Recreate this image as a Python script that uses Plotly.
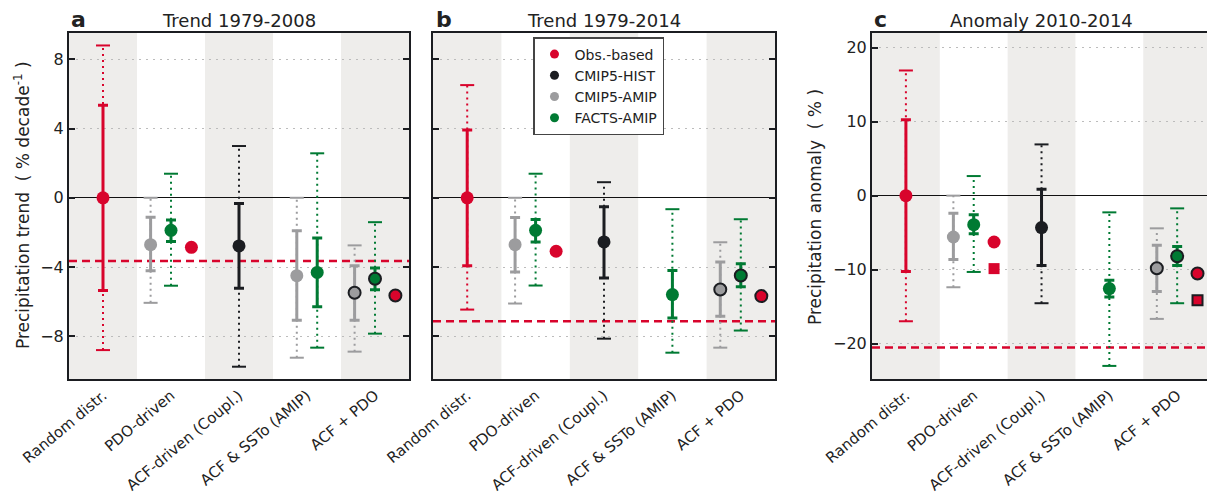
import plotly.graph_objects as go

W, H = 1207, 495

categories = ["Random distr.", "PDO-driven", "ACF-driven (Coupl.)", "ACF & SSTo (AMIP)", "ACF + PDO"]
panel_titles = ["Trend 1979-2008", "Trend 1979-2014", "Anomaly 2010-2014"]
panel_letters = ["a", "b", "c"]
series_names = {"obs": "Obs.-based", "hist": "CMIP5-HIST", "amip": "CMIP5-AMIP", "facts": "FACTS-AMIP"}

# ---------------- Panel a: trend 1979-2008 (% decade-1) ----------------
a_obs = [0.0, -2.86, None, None, -5.65]
a_obs_slo = [-5.35, None, None, None, None]
a_obs_shi = [5.35, None, None, None, None]
a_obs_dlo = [-8.8, None, None, None, None]
a_obs_dhi = [8.8, None, None, None, None]
a_hist = [None, None, -2.78, None, None]
a_hist_slo = [None, None, -5.22, None, None]
a_hist_shi = [None, None, -0.33, None, None]
a_hist_dlo = [None, None, -9.76, None, None]
a_hist_dhi = [None, None, 2.99, None, None]
a_amip = [None, -2.71, None, -4.5, -5.49]
a_amip_slo = [None, -4.21, None, -7.07, -7.07]
a_amip_shi = [None, -1.12, None, -1.91, -3.92]
a_amip_dlo = [None, -6.07, None, -9.24, -8.89]
a_amip_dhi = [None, 0.0, None, 0.0, -2.75]
a_facts = [None, -1.88, None, -4.31, -4.68]
a_facts_slo = [None, -2.53, None, -6.3, -5.32]
a_facts_shi = [None, -1.28, None, -2.32, -4.06]
a_facts_dlo = [None, -5.08, None, -8.66, -7.85]
a_facts_dhi = [None, 1.39, None, 2.57, -1.41]
a_obs_line = -3.65

# ---------------- Panel b: trend 1979-2014 ----------------
b_obs = [0.0, -3.09, None, None, -5.68]
b_obs_slo = [-3.92, None, None, None, None]
b_obs_shi = [3.92, None, None, None, None]
b_obs_dlo = [-6.46, None, None, None, None]
b_obs_dhi = [6.51, None, None, None, None]
b_hist = [None, None, -2.55, None, None]
b_hist_slo = [None, None, -4.64, None, None]
b_hist_shi = [None, None, -0.52, None, None]
b_hist_dlo = [None, None, -8.14, None, None]
b_hist_dhi = [None, None, 0.9, None, None]
b_amip = [None, -2.71, None, None, -5.3]
b_amip_slo = [None, -4.29, None, None, -6.84]
b_amip_shi = [None, -1.14, None, None, -3.71]
b_amip_dlo = [None, -6.11, None, None, -8.66]
b_amip_dhi = [None, 0.0, None, None, -2.57]
b_facts = [None, -1.88, None, -5.59, -4.49]
b_facts_slo = [None, -2.55, None, -6.94, -5.14]
b_facts_shi = [None, -1.26, None, -4.2, -3.81]
b_facts_dlo = [None, -5.07, None, -8.95, -7.67]
b_facts_dhi = [None, 1.39, None, -0.66, -1.24]
b_obs_line = -7.13

# ---------------- Panel c: anomaly 2010-2014 (%) ----------------
c_obs = [0.0, -6.27, None, None, -10.54]
c_obs_square = [None, -9.87, None, None, -14.15]
c_obs_slo = [-10.25, None, None, None, None]
c_obs_shi = [10.27, None, None, None, None]
c_obs_dlo = [-16.99, None, None, None, None]
c_obs_dhi = [16.93, None, None, None, None]
c_hist = [None, None, -4.32, None, None]
c_hist_slo = [None, None, -9.46, None, None]
c_hist_shi = [None, None, 0.85, None, None]
c_hist_dlo = [None, None, -14.55, None, None]
c_hist_dhi = [None, None, 6.93, None, None]
c_amip = [None, -5.59, None, None, -9.82]
c_amip_slo = [None, -8.65, None, None, -12.97]
c_amip_shi = [None, -2.39, None, None, -6.72]
c_amip_dlo = [None, -12.39, None, None, -16.67]
c_amip_dhi = [None, 0.0, None, None, -4.42]
c_facts = [None, -3.92, None, -12.57, -8.2]
c_facts_slo = [None, -5.14, None, -13.7, -9.46]
c_facts_shi = [None, -2.57, None, -11.45, -6.89]
c_facts_dlo = [None, -10.32, None, -23.03, -14.55]
c_facts_dhi = [None, 2.65, None, -2.26, -1.72]
c_obs_line = -20.54

a_ticks = [-8, -4, 0, 4, 8]
c_ticks = [-20, -10, 0, 10, 20]

# ---------------- styles ----------------
COL = {"obs": "#d8042c", "hist": "#1b1d21", "amip": "#9c9c9e", "facts": "#007a33"}
EDGE = "#1b1d21"
BAND = "#eeedeb"
FONT = "DejaVu Sans"
TXT = "#222222"
ORDER = ["amip", "hist", "facts", "obs"]
OUTLINED_CAT = 4


def S(c, slo, shi, dlo, dhi):
    return dict(c=c, slo=slo, shi=shi, dlo=dlo, dhi=dhi)


panels = [
    dict(obs=S(a_obs, a_obs_slo, a_obs_shi, a_obs_dlo, a_obs_dhi),
         hist=S(a_hist, a_hist_slo, a_hist_shi, a_hist_dlo, a_hist_dhi),
         amip=S(a_amip, a_amip_slo, a_amip_shi, a_amip_dlo, a_amip_dhi),
         facts=S(a_facts, a_facts_slo, a_facts_shi, a_facts_dlo, a_facts_dhi),
         square=None, line=a_obs_line),
    dict(obs=S(b_obs, b_obs_slo, b_obs_shi, b_obs_dlo, b_obs_dhi),
         hist=S(b_hist, b_hist_slo, b_hist_shi, b_hist_dlo, b_hist_dhi),
         amip=S(b_amip, b_amip_slo, b_amip_shi, b_amip_dlo, b_amip_dhi),
         facts=S(b_facts, b_facts_slo, b_facts_shi, b_facts_dlo, b_facts_dhi),
         square=None, line=b_obs_line),
    dict(obs=S(c_obs, c_obs_slo, c_obs_shi, c_obs_dlo, c_obs_dhi),
         hist=S(c_hist, c_hist_slo, c_hist_shi, c_hist_dlo, c_hist_dhi),
         amip=S(c_amip, c_amip_slo, c_amip_shi, c_amip_dlo, c_amip_dhi),
         facts=S(c_facts, c_facts_slo, c_facts_shi, c_facts_dlo, c_facts_dhi),
         square=c_obs_square, line=c_obs_line),
]

# layout geometry (pixels)
x_dom_px = [(69, 409), (433, 775), (872, W)]
y_dom = [1 - 379 / H, 1 - 33 / H]
y_ranges = [[-10.47, 9.52], [-10.47, 9.52], [-24.8, 22.0]]
x_ranges = [[-0.5, 4.5], [-0.5, 4.5], [-0.5, 4.44]]
title_cx = [239, 604, 1041]
letter_x = [69, 434, 872]

fig = go.Figure()
band_shapes = []
line_shapes = []
annotations = []
n = len(categories)

for p, pan in enumerate(panels):
    xr = "x" if p == 0 else f"x{p+1}"
    yr = "y" if p == 0 else f"y{p+1}"
    offsets = {}
    for i in range(n):
        present = [s for s in ORDER if pan[s]["c"][i] is not None]
        for k, s in enumerate(present):
            offsets[(s, i)] = (k - (len(present) - 1) / 2) * 0.3
    for i in range(0, n, 2):
        band_shapes.append(dict(type="rect", xref=xr, yref=f"{yr} domain", x0=i - 0.5, x1=i + 0.5,
                                y0=0, y1=1, fillcolor=BAND, line=dict(width=0), layer="below"))
    line_shapes.append(dict(type="line", xref=f"{xr} domain", yref=yr, x0=0, x1=1,
                            y0=pan["line"], y1=pan["line"],
                            line=dict(color=COL["obs"], width=2.5, dash="8px,5px"), layer="below"))
    # dotted ranges
    for s in ORDER:
        d = pan[s]
        for i in range(n):
            if d["c"][i] is None or d["dlo"][i] is None:
                continue
            xp = i + offsets[(s, i)]
            fig.add_trace(go.Scatter(x=[xp, xp], y=[d["dlo"][i], d["dhi"][i]], mode="lines",
                                     line=dict(color=COL[s], width=2, dash="2px,4px"),
                                     xaxis=xr, yaxis=yr, showlegend=False, hoverinfo="skip"))
            fig.add_trace(go.Scatter(x=[xp, xp], y=[d["dlo"][i], d["dhi"][i]], mode="markers",
                                     marker=dict(symbol="line-ew", size=10, color=COL[s],
                                                 line=dict(color=COL[s], width=2)),
                                     xaxis=xr, yaxis=yr, showlegend=False, hoverinfo="skip"))
    # points with solid ranges
    for s in ORDER:
        d = pan[s]
        for i in range(n):
            if d["c"][i] is None:
                continue
            xp = i + offsets[(s, i)]
            y = d["c"][i]
            err = dict(visible=False)
            if d["slo"][i] is not None:
                err = dict(type="data", symmetric=False, array=[d["shi"][i] - y],
                           arrayminus=[y - d["slo"][i]], color=COL[s], thickness=3, width=5, visible=True)
            outlined = (i == OUTLINED_CAT)
            fig.add_trace(go.Scatter(x=[xp], y=[y], mode="markers", error_y=err,
                                     marker=dict(size=13 if not outlined else 12, color=COL[s],
                                                 line=dict(color=EDGE, width=2 if outlined else 0)),
                                     xaxis=xr, yaxis=yr, showlegend=False, name=series_names[s]))
            if s == "obs" and pan["square"] is not None and pan["square"][i] is not None:
                fig.add_trace(go.Scatter(x=[xp], y=[pan["square"][i]], mode="markers",
                                         marker=dict(symbol="square", size=11 if not outlined else 10,
                                                     color=COL[s],
                                                     line=dict(color=EDGE, width=2 if outlined else 0)),
                                         xaxis=xr, yaxis=yr, showlegend=False, name=series_names[s]))

    x0, x1 = x_dom_px[p]
    ticks = c_ticks if p == 2 else a_ticks
    xkey = "xaxis" if p == 0 else f"xaxis{p+1}"
    ykey = "yaxis" if p == 0 else f"yaxis{p+1}"
    fig.layout[xkey] = dict(domain=[x0 / W, min(x1 / W, 1.0)], range=x_ranges[p], anchor=yr,
                            tickvals=list(range(n)), ticktext=categories, tickangle=-40,
                            tickfont=dict(family=FONT, size=15, color=TXT), ticks="",
                            showgrid=False, zeroline=False, showline=True, linewidth=2,
                            linecolor=EDGE, mirror=True, fixedrange=True, automargin=False)
    fig.layout[ykey] = dict(domain=y_dom, range=y_ranges[p], anchor=xr, tickvals=ticks,
                            showticklabels=(p != 1), tickfont=dict(family=FONT, size=16, color=TXT),
                            ticks="inside", ticklen=6, tickwidth=1.5, tickcolor=EDGE,
                            showgrid=True, gridcolor="#bcbcbc", griddash="2px,5px", gridwidth=1,
                            zeroline=True, zerolinecolor="#111111", zerolinewidth=1,
                            showline=True, linewidth=2, linecolor=EDGE,
                            mirror=("ticks" if p < 2 else False), fixedrange=True, automargin=False)
    annotations.append(dict(text=panel_titles[p], x=title_cx[p] / W, y=1 - 20 / H, xref="paper", yref="paper",
                            showarrow=False, xanchor="center", yanchor="middle",
                            font=dict(family=FONT, size=18, color=TXT)))
    annotations.append(dict(text=f"<b>{panel_letters[p]}</b>", x=letter_x[p] / W, y=1 - 19 / H,
                            xref="paper", yref="paper", showarrow=False, xanchor="left", yanchor="middle",
                            font=dict(family=FONT, size=22, color=TXT)))

annotations.append(dict(text="Precipitation trend  ( % decade<sup>-1</sup> )", x=22 / W, y=1 - 205 / H,
                        xref="paper", yref="paper", showarrow=False, textangle=-90,
                        xanchor="center", yanchor="middle", font=dict(family=FONT, size=17, color=TXT)))
annotations.append(dict(text="Precipitation anomaly  ( % )", x=815 / W, y=1 - 207 / H,
                        xref="paper", yref="paper", showarrow=False, textangle=-90,
                        xanchor="center", yanchor="middle", font=dict(family=FONT, size=17, color=TXT)))

for s in ["obs", "hist", "amip", "facts"]:
    fig.add_trace(go.Scatter(x=[None], y=[None], mode="markers", name=series_names[s],
                             marker=dict(size=9, color=COL[s]), xaxis="x2", yaxis="y2", showlegend=True))

fig.update_layout(
    width=W, height=H, margin=dict(l=0, r=0, t=0, b=0, autoexpand=False),
    paper_bgcolor="white", plot_bgcolor="white",
    font=dict(family=FONT, color=TXT),
    shapes=band_shapes + line_shapes, annotations=annotations,
    legend=dict(x=533 / W, y=1 - 37 / H, xanchor="left", yanchor="top", bgcolor="white",
                bordercolor="#444444", borderwidth=1.5, font=dict(family=FONT, size=14, color=TXT),
                tracegroupgap=0, itemwidth=30),
    showlegend=True,
)

fig.write_html("out.html", config={"displayModeBar": False},
               post_script="document.body.style.margin='0';")
